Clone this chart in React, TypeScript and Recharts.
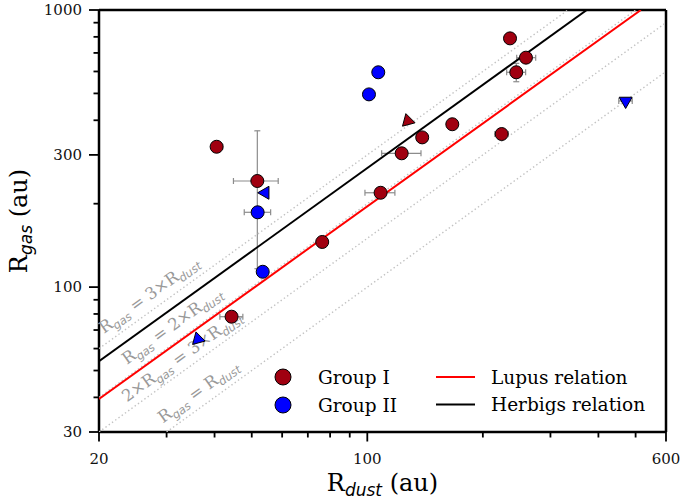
import { ScatterChart, Scatter, XAxis, YAxis, ErrorBar, ReferenceLine, ReferenceDot, Legend } from "recharts";

const SERIF = "'DejaVu Serif', serif";
const SANS = "'DejaVu Sans', sans-serif";
const RED = "#a00010";
const BLUE = "#0000ff";
const ERR = "#8c8c8c";

// axis ticks (log scales)
const xTicks = [20, 30, 40, 50, 60, 70, 80, 90, 100, 200, 300, 400, 500, 600];
const xTickLabels = [20, 100, 600];
const yTicks = [30, 40, 50, 60, 70, 80, 90, 100, 200, 300, 400, 500, 600, 700, 800, 900, 1000];
const yTickLabels = [30, 100, 300, 1000];

// R_dust (x) vs R_gas (y), au
const groupI = [
  { x: 40.5, y: 321, xErr: [1.2, 1.5], yErr: 0 },
  { x: 51.7, y: 241.5, xErr: 6.9, yErr: 125 },
  { x: 76.3, y: 145.5, xErr: 0, yErr: 0 },
  { x: 44.3, y: 78.2, xErr: [3.0, 3.1], yErr: 0 },
  { x: 108.3, y: 219, xErr: 9.7, yErr: 0 },
  { x: 122.9, y: 304, xErr: [13.9, 15.1], yErr: 0 },
  { x: 139, y: 347, xErr: 0, yErr: 0 },
  { x: 166.5, y: 387, xErr: 0, yErr: 0 },
  { x: 223.9, y: 356.8, xErr: 9, yErr: 0 },
  { x: 235.4, y: 790, xErr: 0, yErr: 0 },
  { x: 244.4, y: 596, xErr: [13.7, 14.1], yErr: [45, 46] },
  { x: 259, y: 673, xErr: [14, 15.6], yErr: 0 },
];
const groupII = [
  { x: 106.8, y: 596, xErr: 0 },
  { x: 101, y: 496, xErr: 0 },
  { x: 51.8, y: 186.2, xErr: [4, 4.2] },
  { x: 53.4, y: 113.6, xErr: 0 },
];
// limits drawn as triangles
const groupIDiagLimits = [{ x: 127.5, y: 398 }];
const groupIIDiagLimits = [{ x: 36.2, y: 64.9 }];
const groupIILeftLimits = [{ x: 54.2, y: 219 }];
const groupIIDownLimits = [{ x: 471, y: 469.5, xErr: 19 }];

// relations
const lupusRelation = [{ x: 20, y: 39.5 }, { x: 516, y: 1000 }];
const herbigsRelation = [{ x: 20, y: 54 }, { x: 373, y: 1000 }];
const ratio3 = [{ x: 20, y: 60 }, { x: 333.3, y: 1000 }];
const ratio2 = [{ x: 20, y: 40 }, { x: 500, y: 1000 }];
const ratio15 = [{ x: 20, y: 30 }, { x: 600, y: 900 }];
const ratio1 = [{ x: 30, y: 30 }, { x: 600, y: 600 }];

const ratioLabels = [
  { x: 20.6, y: 67.7, lhs: "", rhs: "3×" },
  { x: 23.66, y: 52.4, lhs: "", rhs: "2×" },
  { x: 23.66, y: 38.3, lhs: "2×", rhs: "3×" },
  { x: 29.36, y: 32.2, lhs: "", rhs: "" },
];

const hidden = () => <g />;

const circle = (fill: string) => (p: any) => (
  <circle cx={p.cx} cy={p.cy} r={6.5} fill={fill} stroke="#000" strokeWidth={1} />
);

const triangle = (fill: string, rot: number, r = 7.5) => (p: any) => {
  const pts = [0, 120, 240]
    .map((a) => {
      const t = ((a + rot - 90) * Math.PI) / 180;
      return `${p.cx + r * Math.cos(t)},${p.cy + r * Math.sin(t)}`;
    })
    .join(" ");
  return <polygon points={pts} fill={fill} stroke="#000" strokeWidth={1} />;
};

const XTick = ({ x, y, payload }: any) => {
  const major = xTickLabels.includes(payload.value);
  return (
    <g>
      <line x1={x} x2={x} y1={y} y2={y + (major ? 9.5 : 5.5)} stroke="#000" strokeWidth={1.8} />
      {major && (
        <text x={x} y={y + 32} textAnchor="middle" fontFamily={SERIF} fontSize={15} fill="#111">
          {payload.value}
        </text>
      )}
    </g>
  );
};

const YTick = ({ x, y, payload }: any) => {
  const major = yTickLabels.includes(payload.value);
  return (
    <g>
      <line x1={x} x2={x - (major ? 10 : 5.5)} y1={y} y2={y} stroke="#000" strokeWidth={1.8} />
      {major && (
        <text x={x - 17} y={y + 5.3} textAnchor="end" fontFamily={SERIF} fontSize={15} fill="#111">
          {payload.value}
        </text>
      )}
    </g>
  );
};

const XTitle = () => (
  <text x={382.5} y={491} textAnchor="middle" fontFamily={SERIF} fontSize={24} fill="#000">
    R<tspan fontFamily={SANS} fontStyle="italic" fontSize={17} dy={5}>dust</tspan>
    <tspan dy={-5}> (au)</tspan>
  </text>
);

const YTitle = () => (
  <text x={27} y={221} transform="rotate(-90 27 221)" textAnchor="middle" fontFamily={SERIF} fontSize={24} fill="#000">
    R<tspan fontFamily={SANS} fontStyle="italic" fontSize={17} dy={5}>gas</tspan>
    <tspan dy={-5}> (au)</tspan>
  </text>
);

const RatioLabel = ({ cx, cy, lhs, rhs }: any) => (
  <text x={cx} y={cy} transform={`rotate(-35.8 ${cx} ${cy})`} fill="#999" fontFamily={SERIF} fontSize={16.5}>
    {lhs}R<tspan fontFamily={SANS} fontStyle="italic" fontSize={11.5} dy={4}>gas</tspan>
    <tspan dy={-4}>{` = ${rhs}R`}</tspan>
    <tspan fontFamily={SANS} fontStyle="italic" fontSize={11.5} dy={4}>dust</tspan>
  </text>
);

const LegendBox = () => (
  <svg width={400} height={60} style={{ display: "block" }}>
    <circle cx={23} cy={19} r={8} fill={RED} stroke="#000" strokeWidth={1} />
    <text x={58} y={25.6} fontFamily={SERIF} fontSize={18.5} fill="#000">Group I</text>
    <circle cx={23} cy={47} r={8} fill={BLUE} stroke="#000" strokeWidth={1} />
    <text x={58} y={53.6} fontFamily={SERIF} fontSize={18.5} fill="#000">Group II</text>
    <line x1={176} x2={215} y1={19} y2={19} stroke="#ff0000" strokeWidth={2} />
    <text x={231} y={25.6} fontFamily={SERIF} fontSize={18.5} fill="#000">Lupus relation</text>
    <line x1={176} x2={215} y1={46.5} y2={46.5} stroke="#000" strokeWidth={2} />
    <text x={231} y={53.1} fontFamily={SERIF} fontSize={18.5} fill="#000">Herbigs relation</text>
  </svg>
);

export default function App() {
  return (
    <div style={{ position: "absolute", left: 0, top: 0, width: 681, height: 499, background: "#fff" }}>
      <ScatterChart width={681} height={499} margin={{ top: 10, right: 15, bottom: 0, left: 0 }}>
        <XAxis
          dataKey="x"
          type="number"
          scale="log"
          domain={[20, 600]}
          allowDataOverflow
          ticks={xTicks}
          interval={0}
          height={67}
          tickSize={0}
          tickMargin={0}
          tickLine={false}
          tick={<XTick />}
          axisLine={{ stroke: "#000", strokeWidth: 2.5 }}
          label={<XTitle />}
        />
        <YAxis
          dataKey="y"
          type="number"
          scale="log"
          domain={[30, 1000]}
          allowDataOverflow
          ticks={yTicks}
          interval={0}
          width={99}
          tickSize={0}
          tickMargin={0}
          tickLine={false}
          tick={<YTick />}
          axisLine={{ stroke: "#000", strokeWidth: 2.5 }}
          label={<YTitle />}
        />
        <ReferenceLine y={1000} stroke="#000" strokeWidth={2.5} ifOverflow="visible" />
        <ReferenceLine x={600} stroke="#000" strokeWidth={2.5} ifOverflow="visible" />

        {[ratio3, ratio2, ratio15, ratio1].map((d, i) => (
          <Scatter
            key={`ratio-${i}`}
            data={d}
            shape={hidden}
            line={{ stroke: "#c2c2c2", strokeWidth: 1.4, strokeDasharray: "1.4 2.6" }}
            isAnimationActive={false}
          />
        ))}
        <Scatter data={lupusRelation} shape={hidden} line={{ stroke: "#ff0000", strokeWidth: 2 }} isAnimationActive={false} />
        <Scatter data={herbigsRelation} shape={hidden} line={{ stroke: "#000", strokeWidth: 2 }} isAnimationActive={false} />

        {ratioLabels.map((l, i) => (
          <ReferenceDot
            key={`rl-${i}`}
            x={l.x}
            y={l.y}
            ifOverflow="visible"
            shape={(p: any) => <RatioLabel cx={p.cx} cy={p.cy} lhs={l.lhs} rhs={l.rhs} />}
          />
        ))}

        <Scatter name="Group I" data={groupI} shape={circle(RED)} isAnimationActive={false}>
          <ErrorBar dataKey="xErr" direction="x" width={3} stroke={ERR} strokeWidth={1.2} />
          <ErrorBar dataKey="yErr" direction="y" width={3} stroke={ERR} strokeWidth={1.2} />
        </Scatter>
        <Scatter data={groupIDiagLimits} shape={triangle(RED, -15)} isAnimationActive={false} />
        <Scatter name="Group II" data={groupII} shape={circle(BLUE)} isAnimationActive={false}>
          <ErrorBar dataKey="xErr" direction="x" width={3} stroke={ERR} strokeWidth={1.2} />
        </Scatter>
        <Scatter data={groupIIDiagLimits} shape={triangle(BLUE, -15)} isAnimationActive={false} />
        <Scatter data={groupIILeftLimits} shape={triangle(BLUE, -90)} isAnimationActive={false} />
        <Scatter data={groupIIDownLimits} shape={triangle(BLUE, 180)} isAnimationActive={false}>
          <ErrorBar dataKey="xErr" direction="x" width={3} stroke={ERR} strokeWidth={1.2} />
        </Scatter>

        <Legend
          layout="horizontal"
          verticalAlign="middle"
          align="center"
          wrapperStyle={{ left: 260, top: 358, width: 400, height: 60 }}
          content={() => <LegendBox />}
        />
      </ScatterChart>
    </div>
  );
}
